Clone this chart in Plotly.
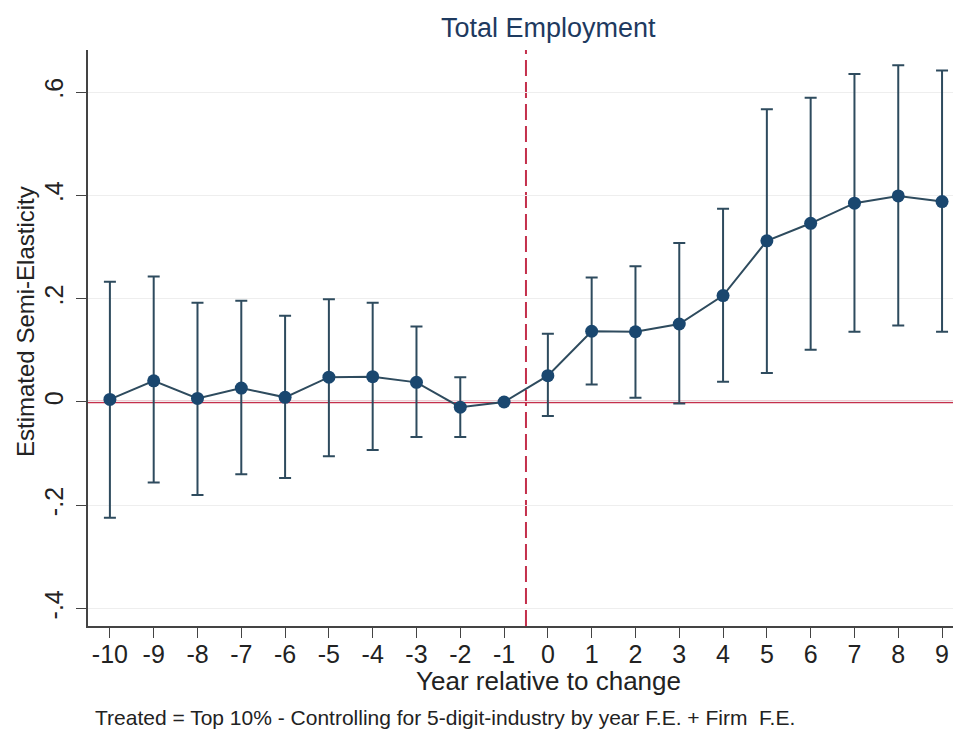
import plotly.graph_objects as go

years = list(range(-10, 10))
estimate = [0.005, 0.041, 0.007, 0.027, 0.009, 0.048, 0.049, 0.038, -0.010, 0.0,
            0.051, 0.137, 0.136, 0.151, 0.206, 0.312, 0.346, 0.385, 0.399, 0.388]
ci_upper = [0.233, 0.243, 0.192, 0.196, 0.167, 0.199, 0.192, 0.146, 0.048, 0.0,
            0.132, 0.241, 0.263, 0.308, 0.374, 0.567, 0.589, 0.635, 0.652, 0.642]
ci_lower = [-0.224, -0.156, -0.180, -0.140, -0.147, -0.105, -0.093, -0.068, -0.068, 0.0,
            -0.027, 0.034, 0.008, -0.003, 0.039, 0.056, 0.101, 0.136, 0.148, 0.136]

ytick_vals = [-0.4, -0.2, 0, 0.2, 0.4, 0.6]
ytick_text = ["-.4", "-.2", "0", ".2", ".4", ".6"]
xtick_vals = years
xtick_text = [str(v) for v in years]

title_text = "Total Employment"
ytitle = "Estimated Semi-Elasticity"
xtitle = "Year relative to change"
note = "Treated = Top 10% - Controlling for 5-digit-industry by year F.E. + Firm  F.E."
event_x = -0.5

navy = "#1a476f"
bar_col = "#2e4b5e"
red = "#c4304c"
font = "Liberation Sans, Arial, sans-serif"

L, R, T, B = 88, 18, 50, 104
PW, PH = 971 - L - R, 730 - T - B


def px_x(px):
    return (px - L) / PW


def px_y(py):
    return (730 - B - py) / PH


err_plus = [u - e for u, e in zip(ci_upper, estimate)]
err_minus = [e - l for e, l in zip(estimate, ci_lower)]

fig = go.Figure()
fig.add_trace(go.Scatter(
    x=years, y=estimate, mode="lines+markers",
    line=dict(color=bar_col, width=2),
    marker=dict(color=navy, size=13),
    error_y=dict(type="data", symmetric=False, array=err_plus, arrayminus=err_minus,
                 color=bar_col, thickness=2, width=6),
    showlegend=False,
))

fig.add_shape(type="line", xref="paper", yref="y", x0=0, x1=1, y0=0, y1=0,
              line=dict(color=red, width=2.5), layer="below")
fig.add_shape(type="line", xref="x", yref="paper", x0=event_x, x1=event_x, y0=0, y1=1,
              line=dict(color=red, width=2, dash="16px,6px"), layer="below")

fig.update_layout(
    width=971, height=730,
    margin=dict(l=L, r=R, t=T, b=B, autoexpand=False),
    paper_bgcolor="white", plot_bgcolor="white",
    font=dict(family=font, color="#222222"),
    xaxis=dict(range=[-10.5, 9.25], tickvals=xtick_vals, ticktext=xtick_text,
               showgrid=False, zeroline=False, showline=True, linecolor="#444444",
               linewidth=1.5, ticks="outside", ticklen=10, tickcolor="#444444",
               tickfont=dict(size=25, color="#222222"), automargin=False,
               ticklabelstandoff=-5),
    yaxis=dict(range=[-0.4337, 0.6815], tickvals=ytick_vals, ticktext=ytick_text,
               tickangle=-90, showgrid=True, gridcolor="#eeeeee", gridwidth=1,
               zeroline=False, showline=True, linecolor="#444444", linewidth=1.5,
               ticks="outside", ticklen=10, tickcolor="#444444",
               tickfont=dict(size=25, color="#222222"), automargin=False,
               ticklabelstandoff=3),
)

fig.add_annotation(text=title_text, xref="paper", yref="paper", x=px_x(548), y=px_y(28),
                   xanchor="center", yanchor="middle", showarrow=False,
                   font=dict(size=27, color="#1e3a5f", family=font))
fig.add_annotation(text=xtitle, xref="paper", yref="paper", x=px_x(548), y=px_y(681),
                   xanchor="center", yanchor="middle", showarrow=False,
                   font=dict(size=26, color="#222222", family=font))
fig.add_annotation(text=ytitle, xref="paper", yref="paper", x=px_x(25), y=px_y(322),
                   xanchor="center", yanchor="middle", showarrow=False, textangle=-90,
                   font=dict(size=24, color="#222222", family=font))
fig.add_annotation(text=note, xref="paper", yref="paper", x=px_x(93), y=px_y(717),
                   xanchor="left", yanchor="middle", showarrow=False,
                   font=dict(size=21, color="#222222", family=font))

fig.write_html("out.html")
